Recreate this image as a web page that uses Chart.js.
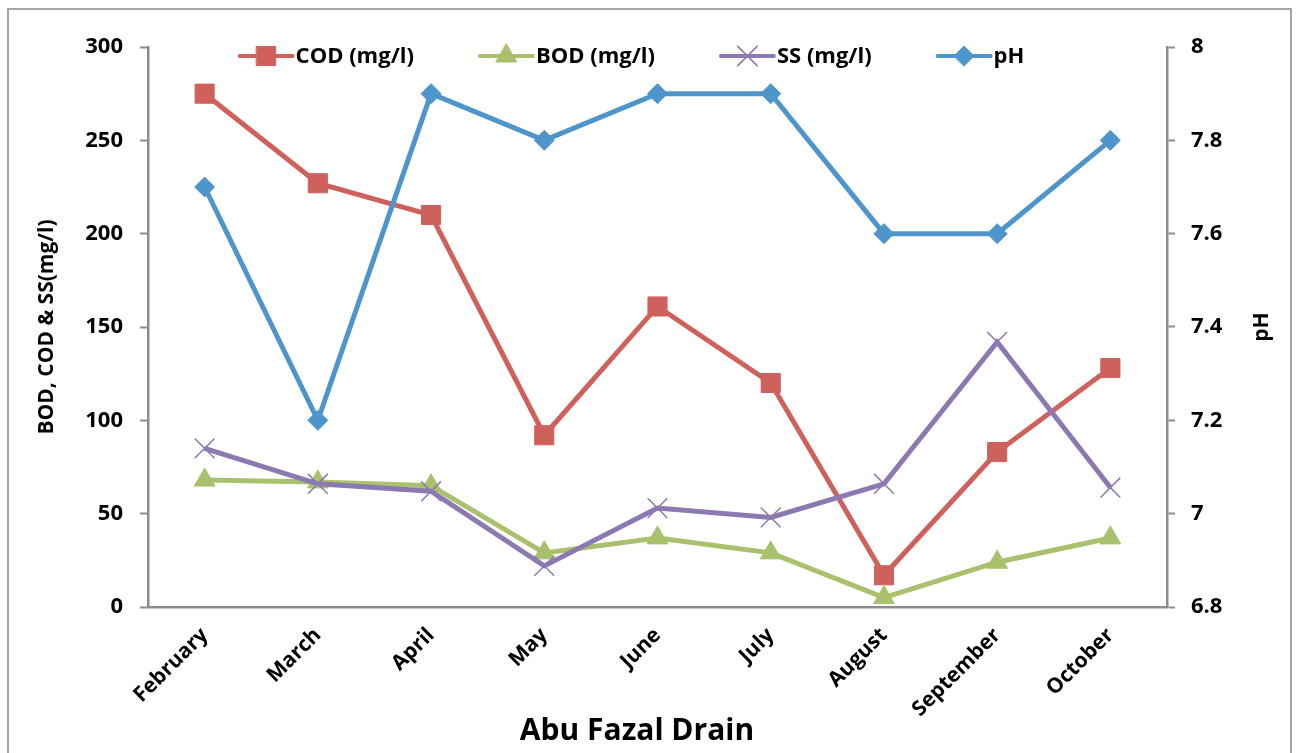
<!DOCTYPE html>
<html>
<head>
<meta charset="utf-8">
<script src="https://cdn.jsdelivr.net/npm/chart.js@4.4.1/dist/chart.umd.min.js"></script>
<style>
  html, body { margin: 0; padding: 0; background: #ffffff; }
  #wrap { position: relative; width: 1298px; height: 753px; }
</style>
</head>
<body>
<div id="wrap"><canvas id="c" width="1298" height="753"></canvas></div>
<script>
const months = ['February','March','April','May','June','July','August','September','October'];
const cod = [275, 227, 210, 92, 161, 120, 17, 83, 128];
const bod = [68, 67, 65, 29, 37, 29, 5, 24, 37];
const ss  = [85, 66, 62, 22, 53, 48, 66, 142, 64];
const ph  = [7.7, 7.2, 7.9, 7.8, 7.9, 7.9, 7.6, 7.6, 7.8];
const leftTicks = [0, 50, 100, 150, 200, 250, 300];
const rightTicks = [6.8, 7, 7.2, 7.4, 7.6, 7.8, 8];
const xTitle = 'Abu Fazal Drain';
const yTitle = 'BOD, COD & SS(mg/l)';
const y1Title = 'pH';

const FONT = '"Open Sans", "DejaVu Sans", sans-serif';
const AXIS = '#8c8c8c';
const C_COD = '#CF615C', C_BOD = '#A9C16C', C_SS = '#8D79B1', C_PH = '#4E95CB';

const series = [
  { label: 'COD (mg/l)', data: cod, color: C_COD, style: 'rect', radius: 13.5, axis: 'y', order: 4, pbw: 1 },
  { label: 'BOD (mg/l)', data: bod, color: C_BOD, style: 'triangle', radius: 12, axis: 'y', order: 3, pbw: 1 },
  { label: 'SS (mg/l)',  data: ss,  color: C_SS,  style: 'crossRot', radius: 14, axis: 'y', order: 2, pbw: 1.5 },
  { label: 'pH',         data: ph,  color: C_PH,  style: 'rectRot', radius: 10, axis: 'y1', order: 1, pbw: 1 }
];

const frame = {
  id: 'frame',
  beforeDraw(chart) {
    const ctx = chart.ctx;
    ctx.save();
    ctx.strokeStyle = '#a6a6a6';
    ctx.lineWidth = 2;
    ctx.strokeRect(8, 9, 1283, 760);
    ctx.restore();
  },
  afterDraw(chart) {
    const ctx = chart.ctx;
    ctx.save();
    ctx.font = 'bold 21px ' + FONT;
    ctx.fillStyle = '#000';
    ctx.textAlign = 'center';
    ctx.textBaseline = 'middle';
    ctx.translate(1262, 327);
    ctx.rotate(-Math.PI / 2);
    ctx.fillText(y1Title, 0, 0);
    ctx.restore();

    ctx.save();
    ctx.font = 'bold 30px ' + FONT;
    ctx.fillStyle = '#000';
    ctx.textAlign = 'center';
    ctx.textBaseline = 'middle';
    ctx.fillText(xTitle, 637, 731);
    ctx.restore();

    ctx.save();
    ctx.font = 'bold 22px ' + FONT;
    const lineLen = 53, gapT = 3, itemGap = 66;
    let total = 0;
    const widths = series.map(s => ctx.measureText(s.label).width);
    widths.forEach((w, i) => { total += lineLen + gapT + w + (i < widths.length - 1 ? itemGap : 0); });
    let x = 632 - total / 2;
    const y = 56;
    series.forEach((s, i) => {
      ctx.strokeStyle = s.color;
      ctx.lineWidth = 4;
      ctx.lineCap = 'round';
      ctx.beginPath();
      ctx.moveTo(x, y);
      ctx.lineTo(x + lineLen, y);
      ctx.stroke();
      ctx.fillStyle = s.color;
      ctx.strokeStyle = s.color;
      ctx.lineWidth = s.pbw;
      Chart.helpers.drawPoint(ctx, { pointStyle: s.style, radius: s.radius, rotation: 0, borderWidth: s.pbw }, x + lineLen / 2, y);
      ctx.fillStyle = '#000';
      ctx.textAlign = 'left';
      ctx.textBaseline = 'middle';
      ctx.fillText(s.label, x + lineLen + gapT, y + 1);
      x += lineLen + gapT + widths[i] + itemGap;
    });
    ctx.restore();
  }
};

new Chart(document.getElementById('c'), {
  type: 'line',
  data: {
    labels: months,
    datasets: series.map(s => ({
      label: s.label,
      data: s.data,
      yAxisID: s.axis,
      order: s.order,
      borderColor: s.color,
      backgroundColor: s.color,
      borderWidth: 5,
      pointStyle: s.style,
      pointRadius: s.radius,
      pointHoverRadius: s.radius,
      pointBorderWidth: s.pbw,
      pointBackgroundColor: s.color,
      pointBorderColor: s.color,
      tension: 0,
      fill: false
    }))
  },
  options: {
    responsive: false,
    animation: false,
    layout: { padding: { top: 47, left: 0, right: 0, bottom: 0 } },
    plugins: { legend: { display: false }, tooltip: { enabled: false } },
    scales: {
      x: {
        type: 'category',
        offset: true,
        afterFit: s => { s.height = 146; },
        grid: { display: false, drawOnChartArea: false },
        border: { display: true, color: AXIS, width: 2.5 },
        ticks: {
          color: '#000',
          font: { family: FONT, size: 21, weight: 'bold' },
          minRotation: 45, maxRotation: 45, padding: 8,
          autoSkip: false
        },
        title: { display: false }
      },
      y: {
        position: 'left',
        min: 0, max: 300,
        afterFit: s => { s.width = 148; },
        afterBuildTicks: s => { s.ticks = leftTicks.map(v => ({ value: v })); },
        grid: { display: true, drawOnChartArea: false, drawTicks: true, tickLength: 8, tickColor: AXIS, tickWidth: 2, color: AXIS },
        border: { display: true, color: AXIS, width: 2.5 },
        ticks: { color: '#000', padding: 17, font: { family: FONT, size: 22, weight: 'bold' } },
        title: {
          display: true, text: yTitle, color: '#000',
          font: { family: FONT, size: 21, weight: 'bold' },
          padding: { top: 34, bottom: 0 }
        }
      },
      y1: {
        position: 'right',
        min: 6.8, max: 8,
        afterFit: s => { s.width = 131; },
        afterBuildTicks: s => { s.ticks = rightTicks.map(v => ({ value: v })); },
        grid: { display: true, drawOnChartArea: false, drawTicks: true, tickLength: 8, tickColor: AXIS, tickWidth: 2, color: AXIS },
        border: { display: true, color: AXIS, width: 2.5 },
        ticks: { color: '#000', padding: 16, font: { family: FONT, size: 22, weight: 'bold' },
          callback: v => String(Math.round(v * 10) / 10) }
      }
    }
  },
  plugins: [frame]
});
</script>
</body>
</html>
